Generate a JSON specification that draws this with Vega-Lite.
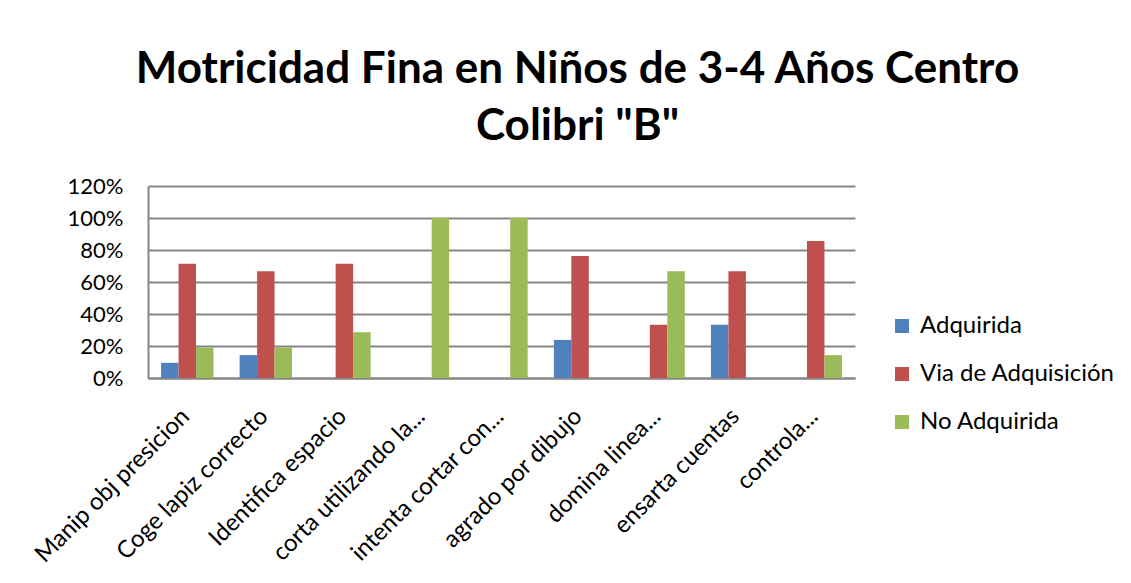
{
  "$schema": "https://vega.github.io/schema/vega-lite/v6.json",
  "width": 707,
  "height": 192,
  "autosize": {"type": "none"},
  "padding": {"left": 148, "top": 186, "right": 276, "bottom": 205},
  "background": "white",
  "title": {
    "text": ["Motricidad Fina en Niños de 3-4 Años Centro", "Colibri \"B\""],
    "font": "Lato",
    "fontSize": 44,
    "fontWeight": "bold",
    "color": "#000000",
    "anchor": "middle",
    "frame": "group",
    "dx": 76,
    "lineHeight": 57,
    "offset": 26
  },
  "data": {
    "values": [
      {"cat": "Manip obj presicion", "serie": "Adquirida", "v": 0.095},
      {"cat": "Manip obj presicion", "serie": "Via de Adquisición", "v": 0.714},
      {"cat": "Manip obj presicion", "serie": "No Adquirida", "v": 0.19},
      {"cat": "Coge lapiz correcto", "serie": "Adquirida", "v": 0.143},
      {"cat": "Coge lapiz correcto", "serie": "Via de Adquisición", "v": 0.667},
      {"cat": "Coge lapiz correcto", "serie": "No Adquirida", "v": 0.19},
      {"cat": "Identifica espacio", "serie": "Adquirida", "v": 0},
      {"cat": "Identifica espacio", "serie": "Via de Adquisición", "v": 0.714},
      {"cat": "Identifica espacio", "serie": "No Adquirida", "v": 0.286},
      {"cat": "corta utilizando la...", "serie": "Adquirida", "v": 0},
      {"cat": "corta utilizando la...", "serie": "Via de Adquisición", "v": 0},
      {"cat": "corta utilizando la...", "serie": "No Adquirida", "v": 1},
      {"cat": "intenta cortar con...", "serie": "Adquirida", "v": 0},
      {"cat": "intenta cortar con...", "serie": "Via de Adquisición", "v": 0},
      {"cat": "intenta cortar con...", "serie": "No Adquirida", "v": 1},
      {"cat": "agrado por dibujo", "serie": "Adquirida", "v": 0.238},
      {"cat": "agrado por dibujo", "serie": "Via de Adquisición", "v": 0.762},
      {"cat": "agrado por dibujo", "serie": "No Adquirida", "v": 0},
      {"cat": "domina linea...", "serie": "Adquirida", "v": 0},
      {"cat": "domina linea...", "serie": "Via de Adquisición", "v": 0.333},
      {"cat": "domina linea...", "serie": "No Adquirida", "v": 0.667},
      {"cat": "ensarta cuentas", "serie": "Adquirida", "v": 0.333},
      {"cat": "ensarta cuentas", "serie": "Via de Adquisición", "v": 0.667},
      {"cat": "ensarta cuentas", "serie": "No Adquirida", "v": 0},
      {"cat": "controla...", "serie": "Adquirida", "v": 0},
      {"cat": "controla...", "serie": "Via de Adquisición", "v": 0.857},
      {"cat": "controla...", "serie": "No Adquirida", "v": 0.143}
    ]
  },
  "mark": {"type": "bar"},
  "encoding": {
    "x": {
      "field": "cat",
      "type": "nominal",
      "sort": null,
      "scale": {"paddingInner": 0.333, "paddingOuter": 0.1667},
      "axis": {
        "title": null,
        "labelAngle": -45,
        "labelAlign": "right",
        "labelBaseline": "top",
        "labelFont": "Lato",
        "labelFontSize": 24,
        "labelColor": "#000000",
        "labelPadding": 26,
        "labelOffset": -10,
        "ticks": false,
        "domain": true,
        "domainColor": "#868686",
        "domainWidth": 2,
        "labelLimit": 400
      }
    },
    "xOffset": {
      "field": "serie",
      "type": "nominal",
      "sort": ["Adquirida", "Via de Adquisición", "No Adquirida"],
      "scale": {"paddingInner": 0, "paddingOuter": 0}
    },
    "y": {
      "field": "v",
      "type": "quantitative",
      "scale": {"domain": [0, 1.2], "nice": false},
      "axis": {
        "title": null,
        "format": ".0%",
        "values": [0, 0.2, 0.4, 0.6, 0.8, 1.0, 1.2],
        "labelFont": "Lato",
        "labelFontSize": 22,
        "labelColor": "#000000",
        "labelPadding": 25,
        "ticks": false,
        "domainColor": "#868686",
        "domainWidth": 2,
        "grid": true,
        "gridColor": "#868686",
        "gridWidth": 2
      }
    },
    "color": {
      "field": "serie",
      "type": "nominal",
      "sort": ["Adquirida", "Via de Adquisición", "No Adquirida"],
      "scale": {"range": ["#4F81BD", "#C0504D", "#9BBB59"]},
      "legend": {
        "title": null,
        "orient": "none",
        "legendX": 742,
        "legendY": 128,
        "symbolType": "square",
        "symbolSize": 196,
        "symbolStrokeWidth": 0,
        "labelFont": "Lato",
        "labelFontSize": 24,
        "labelColor": "#000000",
        "labelOffset": 6,
        "labelLimit": 400,
        "rowPadding": 24
      }
    }
  },
  "config": {"view": {"stroke": null}}
}
